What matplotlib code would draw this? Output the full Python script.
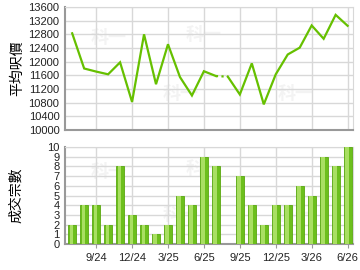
import matplotlib
matplotlib.use("Agg")
import matplotlib.pyplot as plt
import numpy as np

months = ["7/24","8/24","9/24","10/24","11/24","12/24","1/25","2/25","3/25","4/25","5/25","6/25",
          "7/25","8/25","9/25","10/25","11/25","12/25","1/26","2/26","3/26","4/26","5/26","6/26"]
prices = [12830, 11800, 11710, 11630, 11980, 10820, 12800, 11340, 12510, 11550, 11010, 11720,
          11580, 11560, 11040, 11950, 10750, 11630, 12210, 12410, 13060, 12670, 13370, 13050]
counts = [2, 4, 4, 2, 8, 3, 2, 1, 2, 5, 4, 9, 8, 0, 7, 4, 2, 4, 4, 6, 5, 9, 8, 10]
tick_labels = ["9/24", "12/24", "3/25", "6/25", "9/25", "12/25", "3/26", "6/26"]
price_ticks = list(range(10000, 13601, 400))
count_ticks = list(range(0, 11))
gap_month = "8/25"

plt.rcParams['font.family'] = ['Liberation Sans', 'DejaVu Sans']
cjk = ['Noto Sans CJK TC', 'DejaVu Sans']

fig = plt.figure(figsize=(3.6, 2.7), dpi=100)
ax1 = fig.add_axes([65/360, 1-130/270, 288/360, 123/270])
ax2 = fig.add_axes([65/360, 1-244/270, 288/360, 97/270])

x = np.arange(len(months))
tick_pos = [months.index(t) for t in tick_labels]
grid_c = '#d8d8d8'
green = '#66c000'

for ax in (ax1, ax2):
    ax.set_xlim(-0.6, 23.45)
    ax.set_xticks(tick_pos)
    ax.grid(True, color=grid_c, linewidth=1.0)
    ax.set_axisbelow(True)
    for s in ('top', 'right'):
        ax.spines[s].set_color(grid_c)
    for s in ('left', 'bottom'):
        ax.spines[s].set_color('#999999')
        ax.spines[s].set_linewidth(1.5)
    ax.tick_params(axis='y', length=0, labelsize=8, pad=4, colors='#222222')
    ax.tick_params(axis='x', length=3, color='#999999', labelsize=8, colors='#222222')

# watermark
for ax in (ax1, ax2):
    for fx, fy in [(0.15, 0.75), (0.48, 0.78), (0.8, 0.3), (0.4, 0.3)]:
        ax.text(fx, fy, "科一", transform=ax.transAxes, fontsize=13, color='#f3f3f3',
                family=cjk, weight='bold', ha='center', va='center', zorder=0.5)

# price line
gi = months.index(gap_month)
ax1.plot(x[:gi], prices[:gi], color=green, linewidth=1.6, solid_joinstyle='miter', zorder=3)
ax1.plot(x[gi-1:gi+1], prices[gi-1:gi+1], color=green, linewidth=1.6, linestyle=(0, (1, 1.5)), zorder=3)
ax1.plot(x[gi:], prices[gi:], color=green, linewidth=1.6, solid_joinstyle='miter', zorder=3)
ax1.set_ylim(10000, 13600)
ax1.set_yticks(price_ticks)
ax1.set_xticklabels([])
ax1.tick_params(axis='x', length=0)
ax1.set_ylabel("平均呎價", family=cjk, fontsize=10, labelpad=3)

# bars
ax2.bar(x, counts, width=0.66, color='#6cbf1c', edgecolor='#5aa810', linewidth=0.6, zorder=3)
ax2.bar(x - 0.06, counts, width=0.3, color='#a9df62', linewidth=0, zorder=3.5)
ax2.set_ylim(0, 10)
ax2.set_yticks(count_ticks)
ax2.set_xticklabels(tick_labels)
ax2.set_ylabel("成交宗數", family=cjk, fontsize=10, labelpad=17)

fig.savefig("out.png", dpi=100)
